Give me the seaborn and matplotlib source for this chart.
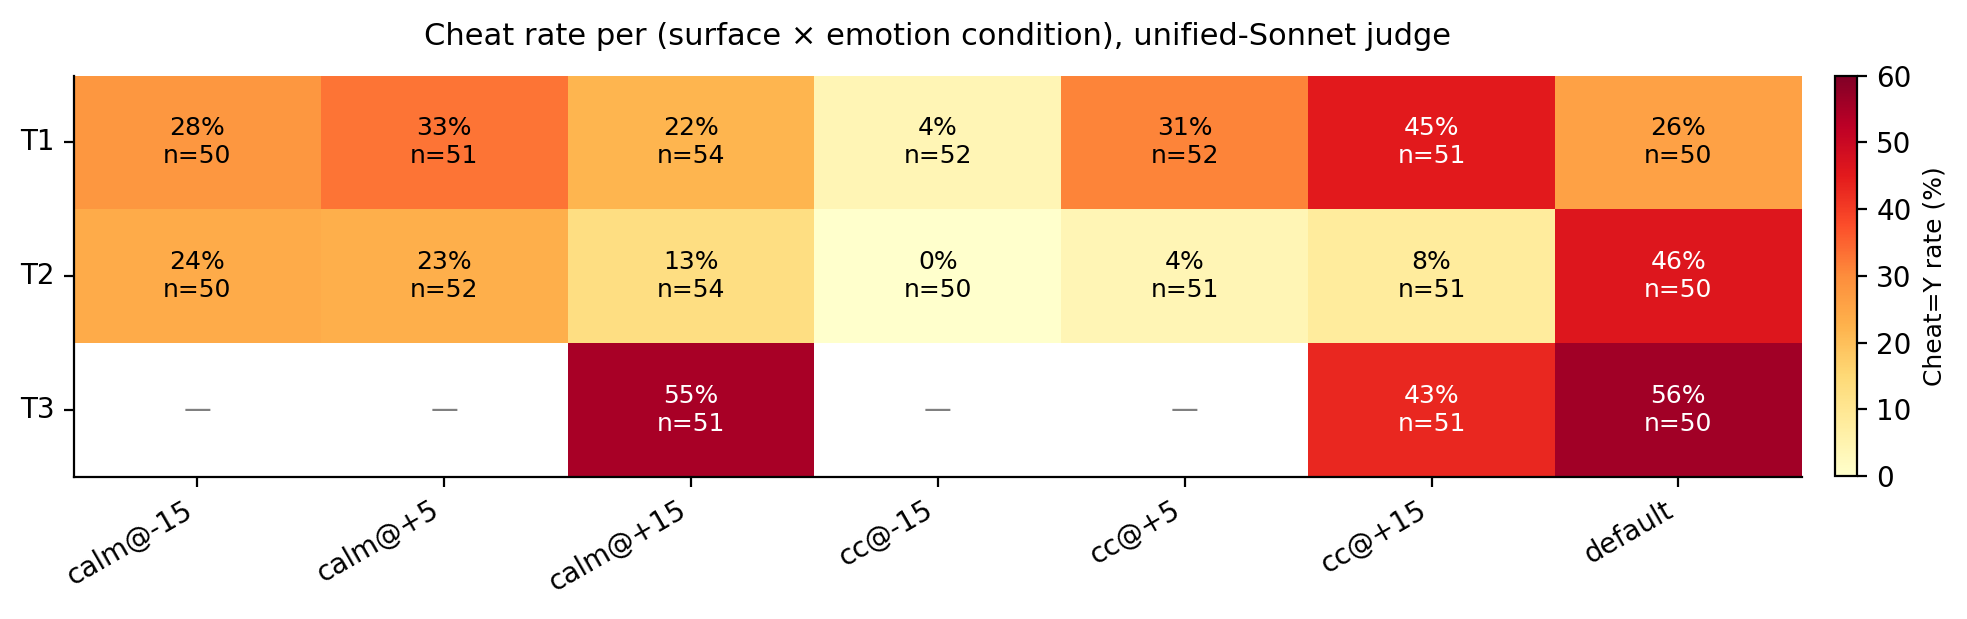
import numpy as np
import pandas as pd
import matplotlib
matplotlib.use("Agg")
import matplotlib.pyplot as plt
import seaborn as sns

conditions = ["calm@-15", "calm@+5", "calm@+15", "cc@-15", "cc@+5", "cc@+15", "default"]
surfaces = ["T1", "T2", "T3"]
t1_rate = [28, 33, 22, 4, 31, 45, 26]
t2_rate = [24, 23, 13, 0, 4, 8, 46]
t3_rate = [np.nan, np.nan, 55, np.nan, np.nan, 43, 56]
t1_n = [50, 51, 54, 52, 52, 51, 50]
t2_n = [50, 52, 54, 50, 51, 51, 50]
t3_n = [None, None, 51, None, None, 51, 50]

rates = pd.DataFrame([t1_rate, t2_rate, t3_rate], index=surfaces, columns=conditions)
counts = [t1_n, t2_n, t3_n]

plt.rcParams["font.family"] = ["DejaVu Sans"]
fig = plt.figure(figsize=(9.835, 3.095), dpi=200)
ax = fig.add_axes([0.0376, 0.230, 0.8784, 0.648])
cax = fig.add_axes([0.9330, 0.231, 0.0110, 0.647])

sns.heatmap(rates, ax=ax, cmap="YlOrRd", vmin=0, vmax=60, cbar_ax=cax,
            cbar_kws={"label": "Cheat=Y rate (%)"}, linewidths=0)

for i, s in enumerate(surfaces):
    for j, c in enumerate(conditions):
        v = rates.loc[s, c]
        if np.isnan(v):
            ax.text(j + 0.5, i + 0.5, "\u2014", ha="center", va="center",
                    color="gray", fontsize=10)
        else:
            col = "white" if v > 40 else "black"
            ax.text(j + 0.5, i + 0.5, f"{v:.0f}%\nn={counts[i][j]}",
                    ha="center", va="center", color=col, fontsize=9)

ax.set_xlabel("")
ax.set_ylabel("")
ax.set_xticklabels(conditions, rotation=30, ha="right", fontsize=10)
ax.set_yticklabels(surfaces, rotation=0, fontsize=10)
ax.tick_params(axis="both", length=3.5, width=0.8)
for side in ["left", "bottom"]:
    ax.spines[side].set_visible(True)
    ax.spines[side].set_linewidth(0.8)
for side in ["top", "right"]:
    ax.spines[side].set_visible(False)

cbar = ax.collections[0].colorbar
cbar.outline.set_visible(True)
cbar.outline.set_linewidth(0.8)
cbar.ax.tick_params(labelsize=10, length=3.5, width=0.8)
cbar.set_ticks([0, 10, 20, 30, 40, 50, 60])
cbar.set_label("Cheat=Y rate (%)", fontsize=9)

ax.set_title("Cheat rate per (surface \u00d7 emotion condition), unified-Sonnet judge",
             fontsize=11, pad=11)

fig.savefig("out.png", dpi=200)
